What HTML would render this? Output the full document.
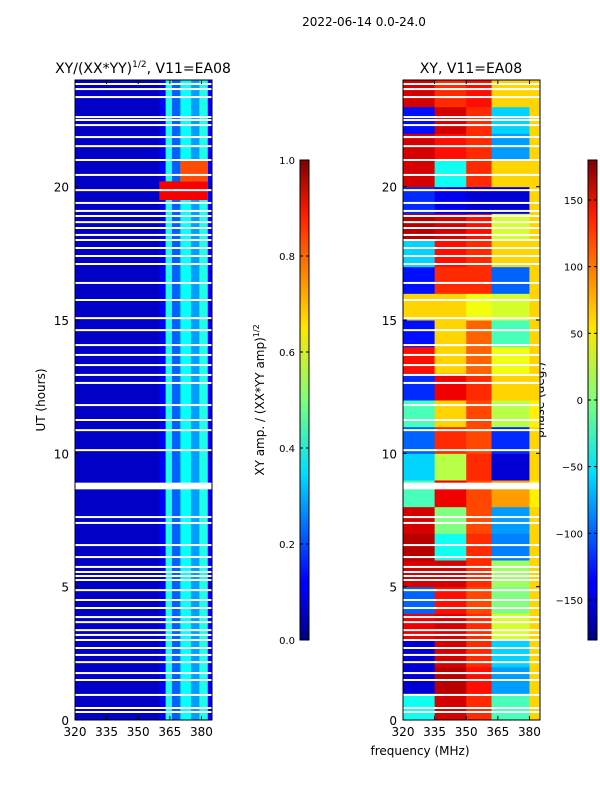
<!DOCTYPE html>
<html><head><meta charset="utf-8">
<style>
body{margin:0;background:#fff;font-family:"DejaVu Sans","Liberation Sans",sans-serif;}
svg text{font-family:"DejaVu Sans","Liberation Sans",sans-serif;}
</style></head>
<body>
<svg id="fig" width="600" height="800" viewBox="0 0 600 800" xmlns="http://www.w3.org/2000/svg">
<text x="364" y="26" font-size="12" text-anchor="middle">2022-06-14 0.0-24.0</text>
<text x="143" y="73" font-size="14" text-anchor="middle">XY/(XX*YY)<tspan font-size="9" dy="-6">1/2</tspan><tspan dy="6">, V11=EA08</tspan></text>
<text x="471" y="73" font-size="14" text-anchor="middle">XY, V11=EA08</text>
<text transform="translate(45,400) rotate(-90)" font-size="12" text-anchor="middle">UT (hours)</text>
<text x="420" y="755" font-size="12" text-anchor="middle">frequency (MHz)</text>
<text transform="translate(264,400) rotate(-90)" font-size="12" text-anchor="middle">XY amp. / (XX*YY amp)<tspan font-size="8" dy="-5">1/2</tspan></text>
<text transform="translate(544,400) rotate(-90)" font-size="12" text-anchor="middle">phase (deg.)</text>
<defs>
<linearGradient id="jet" x1="0" y1="1" x2="0" y2="0">
<stop offset="0" stop-color="#000080"/><stop offset="0.11" stop-color="#0000ff"/>
<stop offset="0.125" stop-color="#0000ff"/><stop offset="0.35" stop-color="#00e0ff"/>
<stop offset="0.5" stop-color="#7dff7a"/><stop offset="0.65" stop-color="#ffe600"/>
<stop offset="0.89" stop-color="#ff1a00"/><stop offset="1" stop-color="#800000"/>
</linearGradient>
</defs>
<g id="left"></g>
<g id="right"></g>
<g id="axes"></g>
</svg>
<script>
// ---- data ----
const freqBandEdges = [320, 360, 363, 366, 370, 375, 379, 383, 385];
const ampBandProfile = [0.07, 0.12, 0.4, 0.22, 0.38, 0.28, 0.4, 0.12];
const ampHotPatch = [{h0:19.5,h1:20.2,f0:360,f1:383,v:0.88},{h0:20.2,h1:21.0,f0:370,f1:383,v:0.8}];
const phaseBandEdges = [320, 335, 350, 362, 380, 385];
const phaseGrid = [
 [-40,150,120,-20,60],[-150,160,130,-80,60],[-150,150,120,-60,60],[140,150,120,30,60],
 [-100,130,110,0,60],[150,150,120,10,60],[160,-40,120,-90,60],[150,0,110,-80,60],
 [-20,140,110,80,50],[-60,20,120,-150,60],[-100,120,110,-120,60],[-20,60,110,20,50],
 [-120,140,120,60,60],[130,60,100,40,60],[-130,60,100,-20,60],[60,60,40,30,60],
 [-130,120,120,-100,60],[-60,130,120,60,60],[160,150,130,30,60],[-120,-140,-150,-150,60],
 [150,-40,120,60,60],[150,130,120,-80,60],[-130,150,120,-60,60],[150,120,130,60,60]
];
const gapHours = [23.85,23.66,23.36,22.61,22.5,22.31,21.86,21.52,21.0,20.44,19.87,19.39,19.09,18.9,18.67,18.45,18.19,18.0,17.7,17.4,17.1,16.39,15.75,15.07,14.62,14.06,13.69,13.31,12.94,12.64,11.81,11.25,10.87,10.12,7.61,7.39,6.56,6.11,5.74,5.55,5.4,5.25,4.87,4.5,4.2,3.86,3.67,3.37,3.19,3.0,2.7,2.44,2.17,1.76,1.5,0.94,0.45,0.3];
const bigGap = [8.65, 8.9];
const xTicks = [320,335,350,365,380];
const yTicks = [0,5,10,15,20];
const ampTicks = [0.0,0.2,0.4,0.6,0.8,1.0];
const phaseTicks = [-150,-100,-50,0,50,100,150];

// ---- helpers ----
function jet(v){v=Math.max(0,Math.min(1,v));
 const r=Math.min(4*v-1.5,-4*v+4.5),g=Math.min(4*v-0.5,-4*v+3.5),b=Math.min(4*v+0.5,-4*v+2.5);
 const c=x=>Math.round(255*Math.max(0,Math.min(1,x)));return `rgb(${c(r)},${c(g)},${c(b)})`;}
const NS="http://www.w3.org/2000/svg";
function el(tag,attrs,parent){const e=document.createElementNS(NS,tag);for(const k in attrs)e.setAttribute(k,attrs[k]);parent.appendChild(e);return e;}
const panels=[{x0:75,x1:212,g:document.getElementById('left')},{x0:403,x1:540,g:document.getElementById('right')}];
const yTop=80,yBot=720;
const yScale=h=>yBot-(h/24)*(yBot-yTop);
const xScale=(p,f)=>p.x0+(f-320)/(385-320)*(p.x1-p.x0);

// left heatmap
const L=panels[0];
for(let h=0;h<24;h++){for(let b=0;b<ampBandProfile.length;b++){
 const r=el('rect',{x:xScale(L,freqBandEdges[b]),y:yScale(h+1),width:xScale(L,freqBandEdges[b+1])-xScale(L,freqBandEdges[b])+0.5,height:yScale(h)-yScale(h+1)+0.5,fill:jet(ampBandProfile[b])},L.g);
 
 
}}
ampHotPatch.forEach(p=>{const r=el('rect',{x:xScale(L,p.f0),y:yScale(p.h1),width:xScale(L,p.f1)-xScale(L,p.f0),height:yScale(p.h0)-yScale(p.h1),fill:jet(p.v)},L.g);
 
 });
// right heatmap
const R=panels[1];
for(let h=0;h<24;h++){for(let b=0;b<5;b++){
 const r=el('rect',{x:xScale(R,phaseBandEdges[b]),y:yScale(h+1),width:xScale(R,phaseBandEdges[b+1])-xScale(R,phaseBandEdges[b])+0.5,height:yScale(h)-yScale(h+1)+0.5,fill:jet((phaseGrid[h][b]+180)/360)},R.g);
 
 
}}
// gaps
panels.forEach(p=>{
 gapHours.forEach(h=>{const r=el('rect',{x:p.x0,y:yScale(h)-1,width:p.x1-p.x0,height:2,fill:'#fff'},p.g);
  
  });
 const r=el('rect',{x:p.x0,y:yScale(bigGap[1]),width:p.x1-p.x0,height:yScale(bigGap[0])-yScale(bigGap[1]),fill:'#fff'},p.g);
 
 
});
// axes
const A=document.getElementById('axes');
panels.forEach((p,i)=>{
 const fr=el('rect',{x:p.x0,y:yTop,width:p.x1-p.x0,height:yBot-yTop,fill:'none',stroke:'#000','stroke-width':1},A);
 
 
 xTicks.forEach(t=>{const x=xScale(p,t);
  el('line',{x1:x,y1:yBot,x2:x,y2:yBot-4,stroke:'#000'},A);
  el('line',{x1:x,y1:yTop,x2:x,y2:yTop+4,stroke:'#000'},A);
  const tx=el('text',{x:x,y:yBot+16,'font-size':12,'text-anchor':'middle'},A);tx.textContent=t;
  
  });
 yTicks.forEach(t=>{const y=yScale(t);
  el('line',{x1:p.x0,y1:y,x2:p.x0+4,y2:y,stroke:'#000'},A);
  el('line',{x1:p.x1,y1:y,x2:p.x1-4,y2:y,stroke:'#000'},A);
  const tx=el('text',{x:p.x0-6,y:y+5,'font-size':12,'text-anchor':'end'},A);tx.textContent=t;
  
  });
});
// colorbars
const cbs=[{x:300,ticks:ampTicks,v0:0,v1:1,fmt:t=>t.toFixed(1),fs:10,name:'amp-colorbar'},{x:588,ticks:phaseTicks,v0:-180,v1:180,fmt:t=>t<0?'\u2212'+(-t):''+t,fs:10,name:'phase-colorbar'}];
cbs.forEach(c=>{
 const r=el('rect',{x:c.x,y:160,width:9,height:480,fill:'url(#jet)',stroke:'#000','stroke-width':1},A);
 
 
 c.ticks.forEach(t=>{const y=640-(t-c.v0)/(c.v1-c.v0)*480;
  el('line',{x1:c.x,y1:y,x2:c.x+3,y2:y,stroke:'#000'},A);
  el('line',{x1:c.x+9,y1:y,x2:c.x+6,y2:y,stroke:'#000'},A);
  const tx=el('text',{x:c.x-5,y:y+4,'font-size':c.fs,'text-anchor':'end'},A);tx.textContent=c.fmt(t);
  
  });
});
</script>
</body></html>
